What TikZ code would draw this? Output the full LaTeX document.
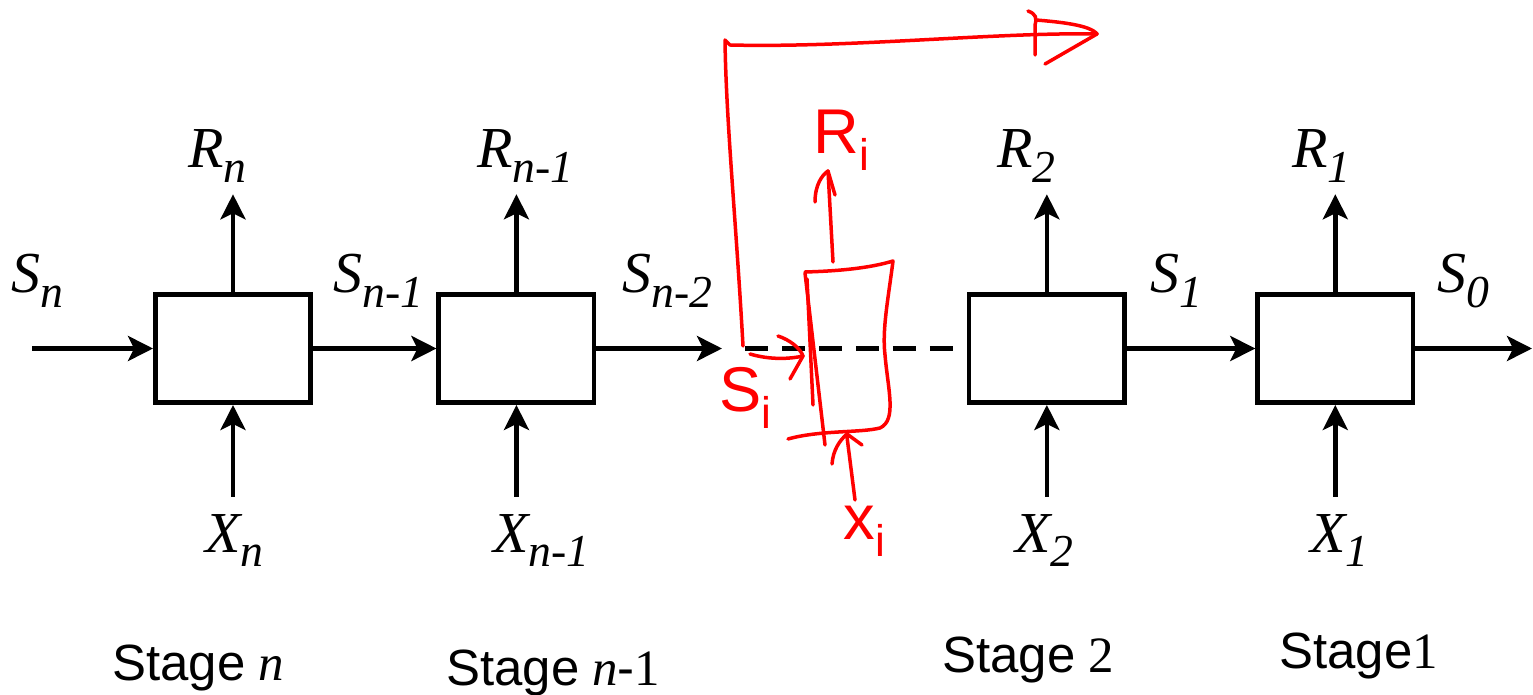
\documentclass[tikz,border=0pt]{standalone}
\usepackage{fontspec}
\setmainfont{Liberation Serif}
\newfontfamily\arialfont{Liberation Sans}
\newfontfamily\timesfont{Liberation Serif}
\usetikzlibrary{arrows.meta, positioning}
\definecolor{penred}{RGB}{255,0,0}
\newcommand{\varsub}[2]{{\timesfont\itshape #1\raisebox{-8.5pt}{\fontsize{26}{26}\selectfont #2}}}
\tikzset{
    stagebox/.style={rectangle, draw, line width=0.09cm, minimum width=3.11cm,
                     minimum height=2.17cm, inner sep=0pt},
    arrow/.style={line width=0.09cm, -{Stealth[length=0.5cm, width=0.5cm, inset=0.12cm]}},
    dashline/.style={line width=0.09cm, dash pattern=on 0.46cm off 0.28cm},
    varlab/.style={inner sep=0pt, font=\timesfont\fontsize{33}{40}\selectfont},
    stagelab/.style={inner sep=0pt, font=\timesfont\fontsize{29}{34}\selectfont},
    pen/.style={penred, line width=0.07cm, line cap=round, line join=round},
    penlab/.style={penred, inner sep=0pt, font=\arialfont\fontsize{36}{40}\selectfont}
}

\begin{document}
\begin{tikzpicture}[x=0.02cm, y=-0.02cm]
    \useasboundingbox (0,0) rectangle (1533,695);

    % Stage boxes
    \node[stagebox] (bn) at (233,348.5) {};
    \node[stagebox, right=2.47cm of bn] (bn1) {};
    \node[stagebox, right=7.41cm of bn1] (b2) {};
    \node[stagebox, right=2.57cm of b2] (b1) {};

    % State flow
    \coordinate (sin) at (32,348.5);
    \coordinate (gapl) at (722,348.5);
    \coordinate (dashl) at (745,348.5);
    \coordinate (sout) at (1532,348.5);
    \draw[arrow] (sin) -- (bn);
    \draw[arrow] (bn) -- (bn1);
    \draw[arrow] (bn1) -- (gapl);
    \draw[dashline] (dashl) -- ([xshift=-0.26cm]b2.west);
    \draw[arrow] (b2) -- (b1);
    \draw[arrow] (b1) -- (sout);

    % State labels
    \node[varlab, anchor=base west] (sn) at (11,293) {\varsub{S}{n}};
    \node[varlab, anchor=base west] (sn1) at (333,293) {\varsub{S}{n-1}};
    \node[varlab, anchor=base west] (sn2) at (622,293) {\varsub{S}{n-2}};
    \node[varlab, anchor=base west] (s1) at (1150,293) {\varsub{S}{1}};
    \node[varlab, anchor=base west] (s0) at (1437,293) {\varsub{S}{0}};

    % Returns
    \node[varlab, anchor=base west] (rn) at (188,168) {\varsub{R}{n}};
    \node[varlab, anchor=base west] (rn1) at (477,168) {\varsub{R}{n-1}};
    \node[varlab, anchor=base west] (r2) at (997,168) {\varsub{R}{2}};
    \node[varlab, anchor=base west] (r1) at (1292,168) {\varsub{R}{1}};
    \draw[arrow] (bn.north) -- ([yshift=-0.22cm]bn.north |- rn.south);
    \draw[arrow] (bn1.north) -- ([yshift=-0.22cm]bn1.north |- rn1.south);
    \draw[arrow] (b2.north) -- ([yshift=-0.22cm]b2.north |- r2.south);
    \draw[arrow] (b1.north) -- ([yshift=-0.22cm]b1.north |- r1.south);

    % Decisions
    \node[varlab, anchor=base west] (xn) at (205,552) {\varsub{X}{n}};
    \node[varlab, anchor=base west] (xn1) at (493,552) {\varsub{X}{n-1}};
    \node[varlab, anchor=base west] (x2) at (1015,552) {\varsub{X}{2}};
    \node[varlab, anchor=base west] (x1) at (1310,552) {\varsub{X}{1}};
    \draw[arrow] ([yshift=0.34cm]bn.south |- xn.north) -- (bn.south);
    \draw[arrow] ([yshift=0.34cm]bn1.south |- xn1.north) -- (bn1.south);
    \draw[arrow] ([yshift=0.34cm]b2.south |- x2.north) -- (b2.south);
    \draw[arrow] ([yshift=0.34cm]b1.south |- x1.north) -- (b1.south);

    % Stage names
    \node[stagelab, anchor=base west] (stn) at (112,680) {{\arialfont Stage} \textit{n}};
    \node[stagelab, anchor=base west] (stn1) at (446,685) {{\arialfont Stage} \textit{n}{\arialfont -}1};
    \node[stagelab, anchor=base west] (st2) at (942,672) {{\arialfont Stage} 2};
    \node[stagelab, anchor=base west] (st1) at (1279,668) {{\arialfont Stage}1};

    % Red pen notes
    \draw[pen] (743,346) .. controls (736,220) and (726,120) .. (725,40) -- (730,45)
        .. controls (850,48) and (1000,32) .. (1097,34);
    \draw[pen] (1097,34) -- (1045,64);
    \draw[pen] (1028,11) .. controls (1036,14) and (1037,18) .. (1035,25) -- (1035,55);
    \draw[pen] (1036,20) .. controls (1060,22) and (1090,25) .. (1097,34);
    \draw[pen] (805,273) -- (825,445);
    \draw[pen] (807,279) -- (813,405);
    \draw[pen] (805,272) .. controls (840,271) and (870,268) .. (893,261)
        .. controls (888,300) and (882,330) .. (885,355)
        .. controls (888,390) and (897,420) .. (880,428)
        .. controls (860,433) and (820,430) .. (788,439);
    \draw[pen] (833,262) -- (828,171);
    \draw[pen] (815,202) .. controls (815,185) and (822,175) .. (828,171) -- (835,195);
    \draw[pen] (750,354) .. controls (770,360) and (790,359) .. (803,356);
    \draw[pen] (778,336) .. controls (790,340) and (800,348) .. (803,356) -- (790,379);
    \draw[pen] (855,500) -- (847,437);
    \draw[pen] (832,464) .. controls (833,450) and (840,440) .. (847,434) -- (862,445);
    \node[penlab] (si) at (746,398) {S\textsubscript{i}};
    \node[penlab] (ri) at (842,140) {R\textsubscript{i}};
    \node[penlab] (xi) at (865,531) {x\textsubscript{i}};
\end{tikzpicture}
\end{document}
